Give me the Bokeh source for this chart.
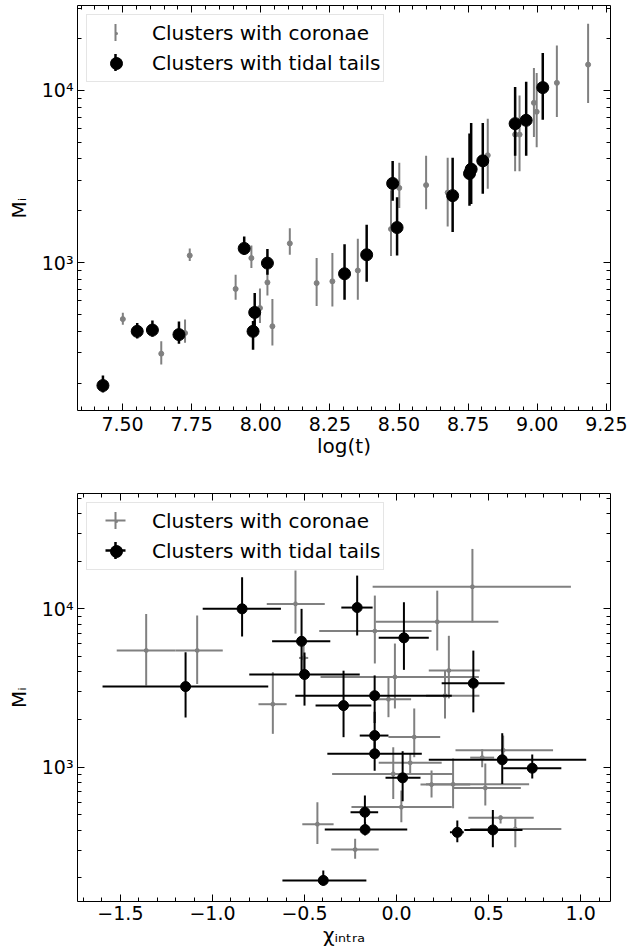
import numpy as np
from bokeh.plotting import figure
from bokeh.layouts import column
from bokeh.models import (FixedTicker, CustomJSTickFormatter, LinearAxis, LogAxis,
                          Legend, LegendItem, ColumnDataSource, Range1d, Whisker)
from bokeh.embed import file_html
from bokeh.resources import INLINE

# ---------------- data: top panel (log age vs mass) ----------------
logt_tails = [7.429, 7.553, 7.608, 7.704, 7.940, 7.972, 7.978, 8.024, 8.303, 8.383,
              8.477, 8.493, 8.694, 8.755, 8.761, 8.803, 8.920, 8.960, 9.020]
M_tails = [194, 400, 407, 383, 1211, 400, 515, 995, 863, 1112,
           2884, 1600, 2450, 3290, 3490, 3900, 6410, 6700, 10370]
M_tails_lo = [177, 363, 372, 339, 1111, 313, 430, 851, 611, 776,
              2290, 1100, 1510, 2140, 2190, 2510, 4170, 4170, 6760]
M_tails_hi = [222, 447, 463, 457, 1419, 460, 668, 1202, 1282, 1660,
              3890, 2400, 4070, 5620, 6460, 6460, 10470, 11220, 16440]

logt_cor = [7.501, 7.640, 7.726, 7.743, 7.909, 7.966, 7.997, 8.024, 8.042, 8.105,
            8.202, 8.259, 8.351, 8.471, 8.501, 8.598, 8.676, 8.821, 8.920, 8.936,
            8.988, 8.998, 9.071, 9.184]
M_cor = [471, 297, 391, 1102, 705, 1064, 546, 769, 428, 1295,
         762, 780, 902, 1568, 2716, 2820, 2553, 4200, 5540, 5540,
         8460, 7510, 11050, 14100]
M_cor_lo = [437, 257, 343, 1023, 611, 933, 447, 646, 331, 1111,
            562, 557, 611, 1096, 2075, 2040, 1620, 2690, 3390, 3390,
            5370, 4680, 7000, 8450]
M_cor_hi = [513, 351, 468, 1211, 851, 1259, 708, 912, 617, 1585,
            1064, 1138, 1380, 2630, 3800, 4170, 4070, 6850, 9330, 9330,
            13490, 12590, 18200, 24300]

# ---------------- data: bottom panel (chi_intra vs mass) ----------------
chi_tails = [-0.839, -1.146, -0.516, -0.500, -0.214, 0.040, 0.417, -0.119, -0.288, -0.119,
             -0.119, 0.033, 0.574, 0.737, -0.172, -0.171, 0.330, 0.523, -0.398]
chi_tails_lo = [-1.053, -1.597, -0.676, -0.80, -0.30, -0.097, 0.245, -0.55, -0.44, -0.20,
                -0.376, -0.06, 0.175, 0.579, -0.25, -0.39, 0.29, 0.368, -0.62]
chi_tails_hi = [-0.628, -0.697, -0.36, -0.20, -0.13, 0.175, 0.587, 0.30, -0.137, -0.044,
                0.137, 0.13, 1.03, 0.895, -0.10, 0.058, 0.365, 0.684, -0.164]
M2_tails = [10000, 3230, 6240, 3850, 10190, 6560, 3390, 2830, 2450, 1585,
            1216, 857, 1114, 986, 520, 404, 388, 402, 193]
M2_tails_lo = [6680, 2060, 4000, 2450, 6790, 4120, 2220, 1900, 1548, 1200,
               950, 610, 785, 849, 439, 371, 336, 312, 179]
M2_tails_hi = [15850, 5320, 10000, 5300, 16220, 11010, 5450, 3800, 4070, 2240,
               1500, 1262, 1640, 1202, 662, 450, 461, 538, 223]

chi_cor = [-1.36, -1.083, -0.549, -0.672, -0.505, -0.118, 0.221, 0.412, -0.009, -0.044,
           0.284, 0.263, 0.096, 0.074, -0.018, 0.19, 0.307, 0.482, 0.026, 0.465,
           0.579, 0.565, 0.645, -0.43, -0.225]
chi_cor_lo = [-1.52, -1.20, -0.705, -0.75, -0.53, -0.42, -0.114, -0.13, -0.413, -0.105,
              0.175, 0.16, -0.044, -0.097, -0.35, 0.13, 0.16, 0.307, -0.245, 0.40,
              0.32, 0.39, 0.40, -0.512, -0.355]
chi_cor_hi = [-1.20, -0.944, -0.39, -0.597, -0.48, 0.19, 0.553, 0.947, 0.447, 0.079,
              0.452, 0.45, 0.237, 0.245, 0.307, 0.40, 0.72, 0.675, 0.30, 0.53,
              0.85, 0.745, 0.895, -0.342, -0.097]
M2_cor = [5460, 5460, 10750, 2500, 4900, 7240, 8280, 13770, 3720, 2690,
          4080, 2830, 1550, 1066, 908, 777, 780, 740, 560, 1150,
          1280, 480, 407, 437, 302]
M2_cor_lo = [3280, 3360, 6980, 1625, 4000, 4520, 5460, 8220, 2350, 2070,
             2720, 2030, 1157, 910, 631, 645, 550, 573, 450, 1000,
             1100, 441, 312, 328, 264]
M2_cor_hi = [9290, 9080, 17460, 3980, 6200, 12130, 13030, 23900, 6040, 3700,
             6760, 4070, 2350, 1220, 1337, 953, 1135, 1055, 713, 1300,
             1585, 495, 474, 601, 353]

label_cor = "Clusters with coronae"
label_tails = "Clusters with tidal tails"

FONT = "DejaVu Sans"
GRAY = "#808080"

# legend geometry (pixels)
LEG_MARGIN = 9
LEG_PAD = 3
LEG_GW = 52
LEG_GH = 30

sup = CustomJSTickFormatter(code="""
const s = {"0":"\u2070","1":"\u00b9","2":"\u00b2","3":"\u00b3","4":"\u2074","5":"\u2075","6":"\u2076","7":"\u2077","8":"\u2078","9":"\u2079"};
const e = Math.round(Math.log10(tick));
return "10" + String(e).split("").map(c => s[c]).join("");
""")


def style_axis(ax, labels=True):
    ax.axis_line_color = None
    ax.major_tick_in = 7
    ax.major_tick_out = 0
    ax.minor_tick_in = 4
    ax.minor_tick_out = 0
    ax.major_tick_line_color = "black"
    ax.minor_tick_line_color = "black"
    ax.major_tick_line_width = 1
    ax.minor_tick_line_width = 1
    ax.major_label_text_font = FONT
    ax.major_label_text_color = "black"
    ax.axis_label_text_font = FONT
    ax.axis_label_text_font_style = "normal"
    ax.axis_label_text_font_size = "20px"
    ax.axis_label_text_color = "black"
    if labels:
        ax.major_label_text_font_size = "19px"
        ax.major_label_standoff = 4
    else:
        ax.formatter = CustomJSTickFormatter(code="return '';")
        ax.major_label_text_font_size = "1px"
        ax.major_label_standoff = 0


def y_ticker(top_decade_minor):
    minors = [m * 100 for m in range(2, 10)] + [m * 1000 for m in range(2, 10)] + \
             [m * 10000 for m in range(2, top_decade_minor + 1)]
    return FixedTicker(ticks=[1000, 10000], minor_ticks=minors)


def bar(p, dim, base, lo, hi, color, lw):
    src = ColumnDataSource(dict(base=[base], lower=[lo], upper=[hi]))
    w = Whisker(source=src, base="base", lower="lower", upper="upper", dimension=dim,
                base_units="canvas", lower_units="canvas", upper_units="canvas",
                line_color=color, line_width=lw, line_alpha=1.0,
                upper_head=None, lower_head=None, level="overlay")
    p.add_layout(w)


def make_legend(p, cross, xs, frame_left, frame_top):
    # legend-only renderers (a single point placed below the visible range)
    src = ColumnDataSource(dict(x=xs[:1], y=[1.0]))
    g_dot = p.scatter(x="x", y="y", source=src, marker="dot", line_color=GRAY,
                      fill_color=GRAY)
    k_dot = p.scatter(x="x", y="y", source=src, marker="circle", line_color="black",
                      fill_color="black")
    leg = Legend(items=[LegendItem(label=label_cor, renderers=[g_dot]),
                        LegendItem(label=label_tails, renderers=[k_dot])],
                 location="top_left", margin=LEG_MARGIN, padding=LEG_PAD, spacing=0,
                 glyph_width=LEG_GW, glyph_height=LEG_GH, label_standoff=10,
                 label_text_font=FONT, label_text_font_size="20px",
                 label_text_color="black",
                 border_line_color="#cccccc", border_line_width=1,
                 background_fill_color=None, background_fill_alpha=0.0)
    p.add_layout(leg)
    cx = frame_left + LEG_MARGIN + LEG_PAD + LEG_GW / 2
    for k, (color, lw) in enumerate([(GRAY, 2), ("black", 2.5)]):
        cy = frame_top + LEG_MARGIN + LEG_PAD + LEG_GH / 2 + k * LEG_GH
        bar(p, "height", cx, cy - 8.5, cy + 8.5, color, lw)
        if cross:
            bar(p, "width", cy, cx - 10, cx + 10, color, lw)


# ---------------- top figure ----------------
p1 = figure(width=629, height=460, y_axis_type="log",
            x_range=Range1d(7.337, 9.265), y_range=Range1d(139, 31050),
            output_backend="svg", toolbar_location=None,
            min_border_left=77, min_border_right=19, min_border_top=5, min_border_bottom=49)
p1.background_fill_color = "white"
p1.border_fill_color = "white"
p1.outline_line_color = "black"
p1.outline_line_width = 1
p1.grid.visible = False

xt1 = FixedTicker(ticks=[7.5, 7.75, 8.0, 8.25, 8.5, 8.75, 9.0, 9.25],
                  minor_ticks=[round(v, 2) for v in np.arange(7.35, 9.27, 0.05)])
p1.xaxis.ticker = xt1
p1.xaxis.formatter = CustomJSTickFormatter(code="return tick.toFixed(2);")
p1.xaxis.axis_label = "log(t)"
p1.yaxis.ticker = y_ticker(3)
p1.yaxis.formatter = sup
p1.yaxis.axis_label = "M\u1d62"
style_axis(p1.xaxis[0])
style_axis(p1.yaxis[0])
p1.xaxis.major_label_standoff = 6
p1.xaxis.axis_label_standoff = 0
p1.yaxis.axis_label_standoff = 8

ax_top = LinearAxis(ticker=xt1)
style_axis(ax_top, labels=False)
p1.add_layout(ax_top, "above")
ax_right = LogAxis(ticker=y_ticker(3))
style_axis(ax_right, labels=False)
p1.add_layout(ax_right, "right")

src_c1 = ColumnDataSource(dict(x=logt_cor, y=M_cor, lo=M_cor_lo, hi=M_cor_hi))
src_t1 = ColumnDataSource(dict(x=logt_tails, y=M_tails, lo=M_tails_lo, hi=M_tails_hi))
p1.segment(x0="x", y0="lo", x1="x", y1="hi", source=src_c1, line_color=GRAY, line_width=2)
p1.scatter(x="x", y="y", source=src_c1, size=5, marker="circle",
           fill_color=GRAY, line_color=GRAY)
p1.segment(x0="x", y0="lo", x1="x", y1="hi", source=src_t1, line_color="black", line_width=2.5)
p1.scatter(x="x", y="y", source=src_t1, size=12, marker="circle",
           fill_color="black", line_color="black")
make_legend(p1, False, logt_tails, 77, 5)

# ---------------- bottom figure ----------------
p2 = figure(width=629, height=492, y_axis_type="log",
            x_range=Range1d(-1.733, 1.162), y_range=Range1d(142, 53500),
            output_backend="svg", toolbar_location=None,
            min_border_left=77, min_border_right=2, min_border_top=33, min_border_bottom=51)
p2.background_fill_color = "white"
p2.border_fill_color = "white"
p2.outline_line_color = "black"
p2.outline_line_width = 1
p2.grid.visible = False

xt2 = FixedTicker(ticks=[-1.5, -1.0, -0.5, 0.0, 0.5, 1.0],
                  minor_ticks=[round(v, 1) for v in np.arange(-1.7, 1.16, 0.1)])
p2.xaxis.ticker = xt2
p2.xaxis.formatter = CustomJSTickFormatter(
    code="return tick.toFixed(1).replace('-', '\u2212');")
p2.xaxis.axis_label = "\u03c7\u1d62\u2099\u209c\u1d63\u2090"
p2.yaxis.ticker = y_ticker(5)
p2.yaxis.formatter = sup
p2.yaxis.axis_label = "M\u1d62"
style_axis(p2.xaxis[0])
style_axis(p2.yaxis[0])
p2.xaxis.axis_label_standoff = 0
p2.yaxis.axis_label_standoff = 8

ax_top2 = LinearAxis(ticker=xt2)
style_axis(ax_top2, labels=False)
p2.add_layout(ax_top2, "above")
ax_right2 = LogAxis(ticker=y_ticker(5))
style_axis(ax_right2, labels=False)
p2.add_layout(ax_right2, "right")

src_c2 = ColumnDataSource(dict(x=chi_cor, xlo=chi_cor_lo, xhi=chi_cor_hi,
                               y=M2_cor, lo=M2_cor_lo, hi=M2_cor_hi))
src_t2 = ColumnDataSource(dict(x=chi_tails, xlo=chi_tails_lo, xhi=chi_tails_hi,
                               y=M2_tails, lo=M2_tails_lo, hi=M2_tails_hi))
p2.segment(x0="xlo", y0="y", x1="xhi", y1="y", source=src_c2, line_color=GRAY, line_width=2)
p2.segment(x0="x", y0="lo", x1="x", y1="hi", source=src_c2, line_color=GRAY, line_width=2)
p2.scatter(x="x", y="y", source=src_c2, size=4, marker="circle",
           fill_color=GRAY, line_color=GRAY)
p2.segment(x0="xlo", y0="y", x1="xhi", y1="y", source=src_t2, line_color="black", line_width=2)
p2.segment(x0="x", y0="lo", x1="x", y1="hi", source=src_t2, line_color="black", line_width=2)
p2.scatter(x="x", y="y", source=src_t2, size=10, marker="circle",
           fill_color="black", line_color="black")
make_legend(p2, True, chi_tails, 77, 33)

layout = column(p1, p2, spacing=0)
open("out.html", "w").write(file_html(layout, INLINE))
